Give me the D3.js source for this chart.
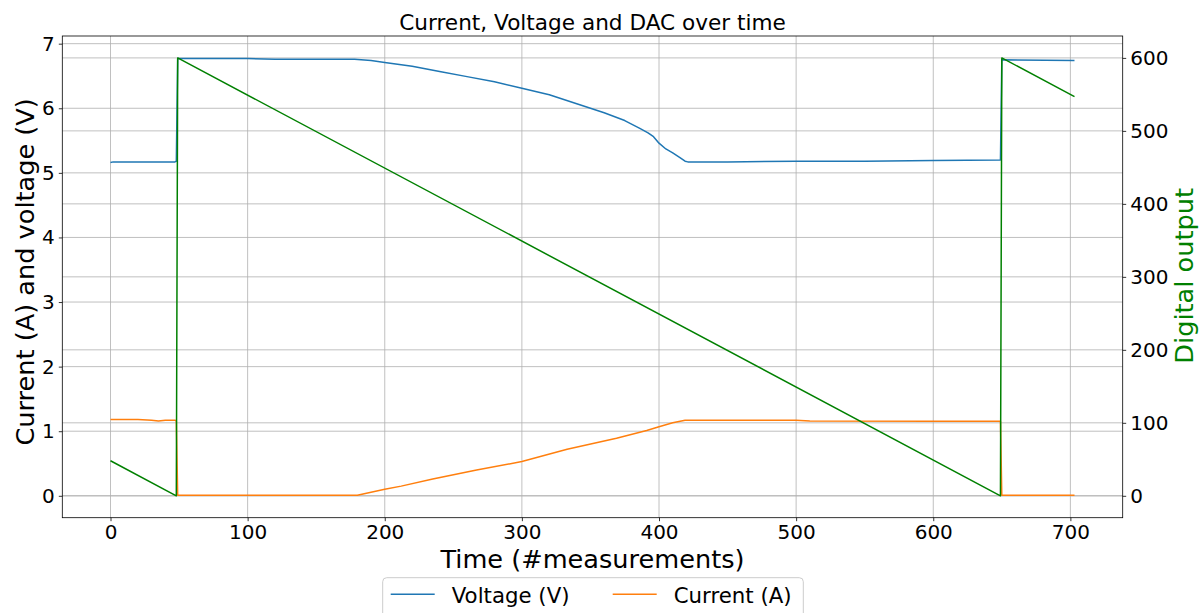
<!DOCTYPE html>
<html>
<head>
<meta charset="utf-8">
<script src="https://cdn.jsdelivr.net/npm/d3@7"></script>
<style>
	html, body {
		margin: 0;
		padding: 0;
		background: #fff;
	}
	svg {
		display: block;
		font-family: 'DejaVu Sans', sans-serif;
	}
</style>
</head>
<body>
<div id="chart"></div>
<script>
// [time step, value] pairs
const voltagePoints = [
	[0, 5.16], [2, 5.17], [20, 5.17], [47, 5.17], [48, 5.18],
	[49, 6.77], [100, 6.77], [120, 6.76], [150, 6.76], [178, 6.76],
	[190, 6.74], [200, 6.71], [220, 6.65], [240, 6.57], [260, 6.49],
	[280, 6.41], [300, 6.31], [320, 6.21], [340, 6.07], [360, 5.93],
	[375, 5.81], [386, 5.69], [392, 5.62], [396, 5.56], [400, 5.46],
	[405, 5.37], [410, 5.31], [415, 5.24], [419, 5.18], [421, 5.17],
	[450, 5.17], [500, 5.18], [550, 5.18], [600, 5.19], [649, 5.2],
	[650, 6.75], [703, 6.74],
];

const currentPoints = [
	[0, 1.18], [20, 1.18], [30, 1.17], [35, 1.16], [40, 1.17],
	[47, 1.17], [48, 1.16], [49, 0.01], [100, 0.01], [180, 0.01],
	[200, 0.1], [212, 0.15], [235, 0.26], [267, 0.4], [300, 0.53],
	[333, 0.72], [369, 0.89], [391, 1.01], [400, 1.07], [410, 1.13],
	[419, 1.17], [500, 1.17], [510, 1.16], [600, 1.155], [649, 1.155],
	[650, 0.01], [703, 0.01],
];

const dacPoints = [
	[0, 48], [48, 0], [49, 600], [649, 0], [650, 600], [703, 547],
];

const xTicks = [0, 100, 200, 300, 400, 500, 600, 700];
const leftTicks = [0, 1, 2, 3, 4, 5, 6, 7];
const rightTicks = [0, 100, 200, 300, 400, 500, 600];

const legendItems = [
	{label: 'Voltage (V)', color: '#1f77b4'},
	{label: 'Current (A)', color: '#ff7f0e'},
];

const WIDTH = 1203;
const HEIGHT = 613;
const margin = {top: 36, right: 80.3, bottom: 95.3, left: 62.3};
const GRID = '#b0b0b0';

const svg = d3
	.select('#chart')
	.append('svg')
	.attr('width', WIDTH)
	.attr('height', HEIGHT);

svg.append('rect')
	.attr('width', WIDTH)
	.attr('height', HEIGHT)
	.attr('fill', '#fff');

const x0 = margin.left;
const x1 = WIDTH - margin.right;
const y0 = margin.top;
const y1 = HEIGHT - margin.bottom;

// matplotlib style 5% margins around the data
const pad = (lo, hi) => [lo - (hi - lo) * 0.05, hi + (hi - lo) * 0.05];

const x = d3.scaleLinear().domain(pad(0, 703)).range([x0, x1]);
const yLeft = d3.scaleLinear().domain(pad(0, 6.78)).range([y1, y0]);
const yRight = d3.scaleLinear().domain(pad(0, 600)).range([y1, y0]);

// Grid lines of both axes
const grid = svg.append('g')
	.attr('stroke', GRID)
	.attr('stroke-width', 0.8);

grid.selectAll('line.gx')
	.data(xTicks)
	.enter()
	.append('line')
	.attr('x1', d => x(d))
	.attr('x2', d => x(d))
	.attr('y1', y0)
	.attr('y2', y1);

grid.selectAll('line.gl')
	.data(leftTicks)
	.enter()
	.append('line')
	.attr('x1', x0)
	.attr('x2', x1)
	.attr('y1', d => yLeft(d))
	.attr('y2', d => yLeft(d));

grid.selectAll('line.gr')
	.data(rightTicks)
	.enter()
	.append('line')
	.attr('x1', x0)
	.attr('x2', x1)
	.attr('y1', d => yRight(d))
	.attr('y2', d => yRight(d));

// Series
const drawLine = (points, yScale, color) => {
	const line = d3.line()
		.x(d => x(d[0]))
		.y(d => yScale(d[1]));

	svg.append('path')
		.datum(points)
		.attr('d', line)
		.attr('fill', 'none')
		.attr('stroke', color)
		.attr('stroke-width', 1.5)
		.attr('stroke-linejoin', 'round');
};

drawLine(voltagePoints, yLeft, '#1f77b4');
drawLine(currentPoints, yLeft, '#ff7f0e');
drawLine(dacPoints, yRight, '#008000');

// Axes
const styleAxis = g => {
	g.select('.domain').remove();
	g.selectAll('.tick line')
		.attr('stroke', '#000')
		.attr('stroke-width', 0.8);
	g.selectAll('.tick text')
		.attr('fill', '#000')
		.attr('font-size', 20)
		.attr('font-family', "'DejaVu Sans', sans-serif");
};

svg.append('g')
	.attr('transform', `translate(0,${y1})`)
	.call(d3.axisBottom(x).tickValues(xTicks).tickSize(3.5).tickPadding(4))
	.call(styleAxis);

svg.append('g')
	.attr('transform', `translate(${x0},0)`)
	.call(d3.axisLeft(yLeft).tickValues(leftTicks).tickSize(3.5).tickPadding(4))
	.call(styleAxis);

svg.append('g')
	.attr('transform', `translate(${x1},0)`)
	.call(d3.axisRight(yRight).tickValues(rightTicks).tickSize(3.5).tickPadding(4))
	.call(styleAxis);

svg.append('rect')
	.attr('x', x0)
	.attr('y', y0)
	.attr('width', x1 - x0)
	.attr('height', y1 - y0)
	.attr('fill', 'none')
	.attr('stroke', '#000')
	.attr('stroke-width', 0.8);

// Titles and labels
svg.append('text')
	.attr('x', (x0 + x1) / 2)
	.attr('y', 30)
	.attr('text-anchor', 'middle')
	.attr('font-size', 21.6)
	.text('Current, Voltage and DAC over time');

svg.append('text')
	.attr('x', (x0 + x1) / 2)
	.attr('y', 567.5)
	.attr('text-anchor', 'middle')
	.attr('font-size', 25.6)
	.text('Time (#measurements)');

svg.append('text')
	.attr('transform', `translate(33.5,${(y0 + y1) / 2 - 5}) rotate(-90)`)
	.attr('text-anchor', 'middle')
	.attr('font-size', 25.6)
	.text('Current (A) and voltage (V)');

svg.append('text')
	.attr('transform', `translate(1192.5,${(y0 + y1) / 2 - 1}) rotate(-90)`)
	.attr('text-anchor', 'middle')
	.attr('font-size', 25.6)
	.attr('fill', '#008000')
	.text('Digital output');

// Legend, partly cut off by the bottom edge
const legend = svg.append('g');

legend.append('rect')
	.attr('x', 382.7)
	.attr('y', 577.7)
	.attr('width', 420.6)
	.attr('height', 50)
	.attr('rx', 4)
	.attr('fill', '#fff')
	.attr('fill-opacity', 0.8)
	.attr('stroke', '#cccccc')
	.attr('stroke-width', 1);

const entryX = [390.7, 612.7];

legendItems.forEach((item, i) => {
	legend.append('line')
		.attr('x1', entryX[i])
		.attr('x2', entryX[i] + 44)
		.attr('y1', 594.3)
		.attr('y2', 594.3)
		.attr('stroke', item.color)
		.attr('stroke-width', 1.5);

	legend.append('text')
		.attr('x', entryX[i] + 61)
		.attr('y', 603.3)
		.attr('font-size', 21.3)
		.text(item.label);
});
</script>
</body>
</html>
